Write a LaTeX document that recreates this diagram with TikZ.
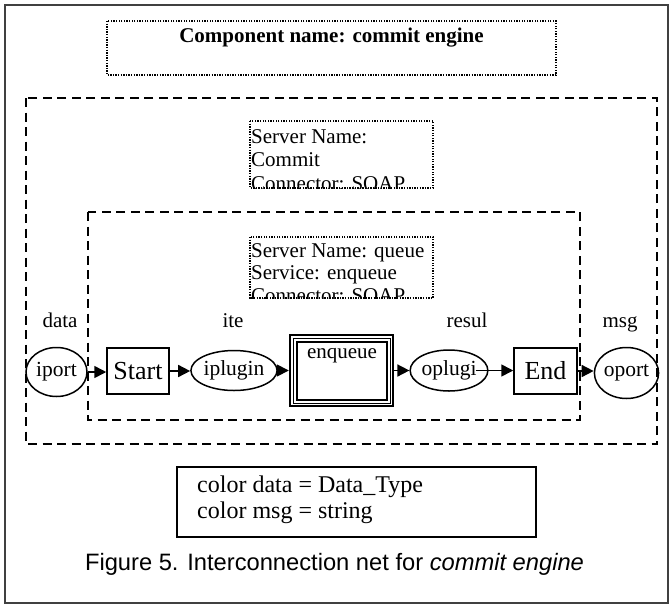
\documentclass[tikz,border=0pt]{standalone}
\usepackage{fontspec}
\setmainfont{Liberation Serif}
\newfontfamily\capfont{Liberation Sans}
\usetikzlibrary{arrows.meta,shapes.geometric}
\begin{document}
\begin{tikzpicture}[x=1pt,y=-1pt,
  txt/.style={inner sep=0pt,font=\fontsize{21}{23}\selectfont},
  dotbox/.style={draw,line width=1.3pt,dash pattern=on 1.3pt off 1.3pt},
  dashbox/.style={draw,line width=1.8pt,dash pattern=on 9pt off 5.5pt},
  place/.style={draw,ellipse,line width=1.5pt,inner sep=0pt,font=\fontsize{21.5}{23}\selectfont},
  trans/.style={draw,rectangle,line width=1.5pt,inner sep=0pt,font=\fontsize{26}{28}\selectfont},
  arr/.style={line width=1.6pt,-{Triangle[length=12pt,width=12pt]}}]
\useasboundingbox (0,0) rectangle (671,605);
% frame
\draw[line width=1.6pt,black!75] (5,5) rectangle (668,603);
% title
\draw[dotbox] (107,21) rectangle (556,75);
\node[txt,anchor=base,font=\fontsize{21}{23}\selectfont\bfseries] (title) at (331.5,42) {Component name: commit engine};
% dashed boxes
\draw[dashbox] (26,98) rectangle (657,444);
\draw[dashbox] (88,212) rectangle (580,420);
% server box 1
\begin{scope}
\clip (249,121) rectangle (434,188);
\node[txt,anchor=base west] (s1a) at (251,143) {Server Name:};
\node[txt,anchor=base west] (s1b) at (251,166) {Commit};
\node[txt,anchor=base west] (s1c) at (251,190) {Connector: SOAP};
\end{scope}
\draw[dotbox] (250,121) rectangle (433,188);
% server box 2
\begin{scope}
\clip (249,237) rectangle (434,298);
\node[txt,anchor=base west] (s2a) at (251,257) {Server Name: queue};
\node[txt,anchor=base west] (s2b) at (251,279) {Service: enqueue};
\node[txt,anchor=base west] (s2c) at (251,302) {Connector: SOAP};
\end{scope}
\draw[dotbox] (250,237) rectangle (433,298);
% labels
\node[txt,anchor=base] (ldata) at (60,327) {data};
\node[txt,anchor=base] (lite) at (233,327) {ite};
\node[txt,anchor=base] (lresul) at (467,327) {resul};
\node[txt,anchor=base] (lmsg) at (620,327) {msg};
% net
\node[place,minimum width=61pt,minimum height=49pt] (iport) at (56.5,372) {iport};
\node[trans,minimum width=62pt,minimum height=46pt] (Start) at (138,371) {Start};
\node[place,minimum width=72pt,minimum height=40pt] (iplugin) at (234,370.5) {iplugin};
\node[draw,rectangle,line width=2.4pt,minimum width=103pt,minimum height=71pt,inner sep=0pt] (enq) at (341.5,370.5) {};
\draw[line width=1pt] (293,338) rectangle (390,403);
\draw[line width=2pt] (296.5,341.5) rectangle (386.5,399.5);
\node[txt,anchor=base] (enqt) at (342,358) {enqueue};
\node[place,minimum width=74pt,minimum height=41pt] (oplugi) at (449,370.5) {oplugi};
\node[trans,minimum width=63pt,minimum height=46pt] (End) at (545.5,371) {End};
\node[place,minimum width=63pt,minimum height=51pt] (oport) at (626.5,373) {oport};
\draw[arr] (iport.east) -- (iport.east -| Start.west);
\draw[arr] (Start.east) -- (Start.east -| iplugin.west);
\draw[arr] (iplugin.east) -- (iplugin.east -| enq.west);
\draw[arr] (enq.east) -- (enq.east -| oplugi.west);
\draw[arr] ([xshift=-13pt]oplugi.east) -- (oplugi.east -| End.west);
\draw[arr] (End.east) -- (End.east -| oport.west);
% colour box
\draw[line width=1.5pt] (177,467) rectangle (536,537);
\node[inner sep=0pt,anchor=base west,font=\fontsize{24}{27}\selectfont] (c1) at (197,492) {color data = Data\_Type};
\node[inner sep=0pt,anchor=base west,font=\fontsize{24}{27}\selectfont] (c2) at (197,518) {color msg = string};
% caption
\node[inner sep=0pt,anchor=base,font=\capfont\fontsize{23.7}{26}\selectfont] (cap) at (334.5,570) {Figure 5. Interconnection net for \textit{commit engine}};
\end{tikzpicture}
\end{document}
